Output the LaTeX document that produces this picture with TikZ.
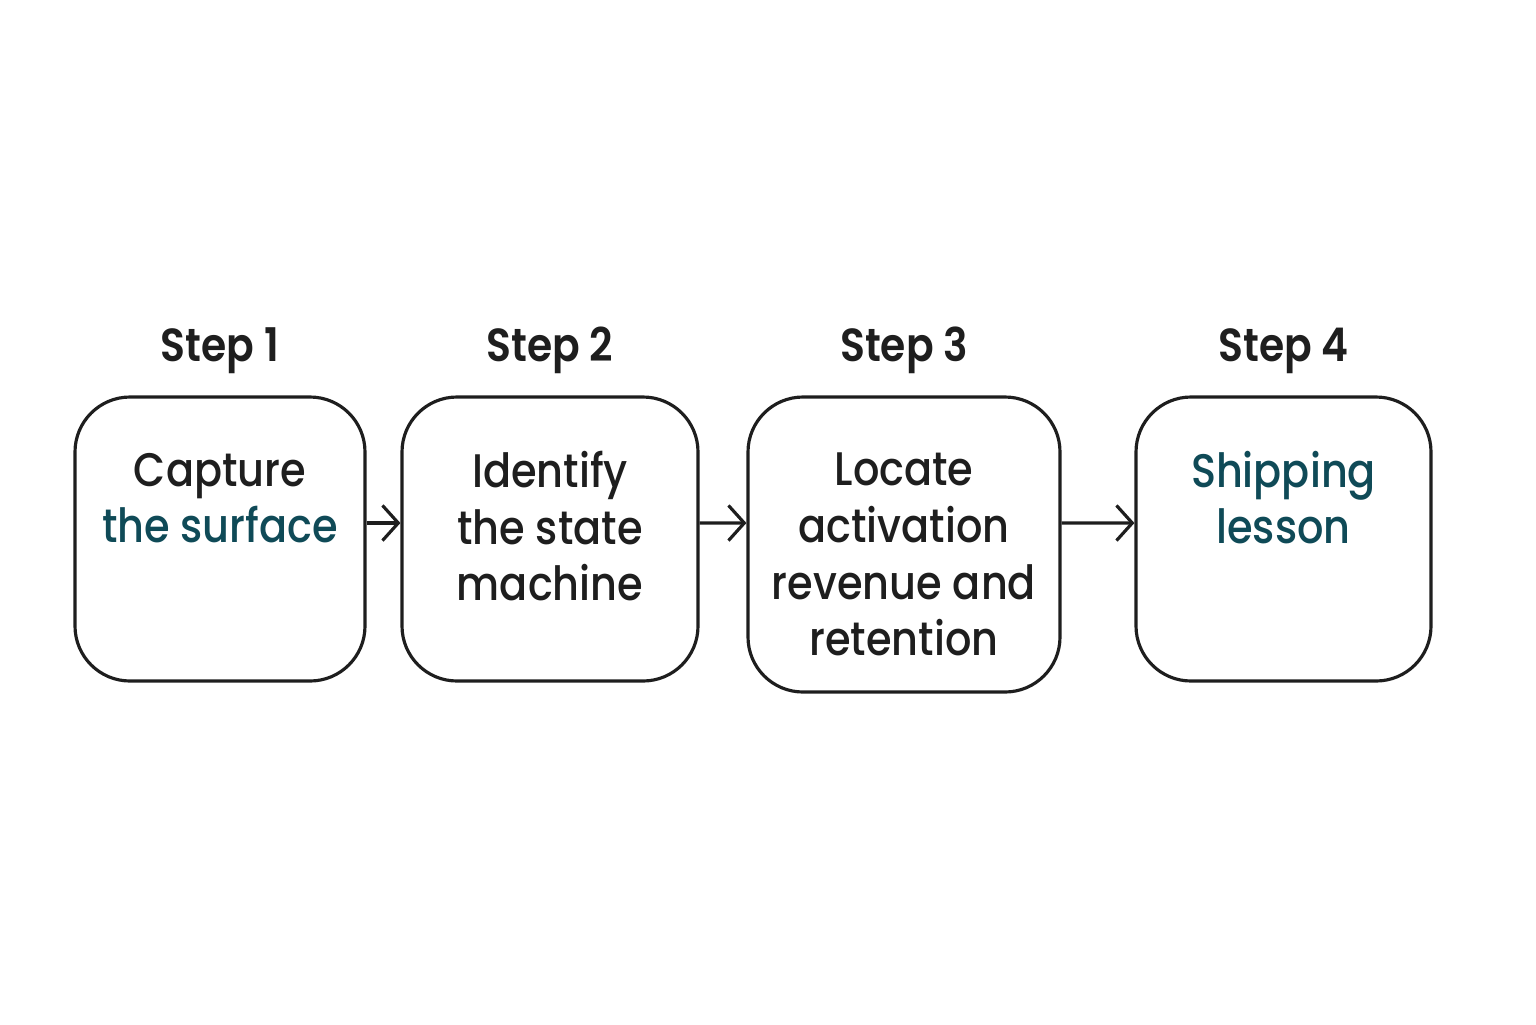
\documentclass[tikz,border=0pt]{standalone}
\usepackage{fontspec}
\setmainfont{Poppins}[UprightFont=* Medium, BoldFont=* SemiBold, FakeStretch=0.88]
\usetikzlibrary{positioning, arrows.meta}

\definecolor{ink}{HTML}{1E1E1E}
\definecolor{deepteal}{HTML}{0F4A57}

\begin{document}
\begin{tikzpicture}[
  box/.style={draw=ink, line width=0.9pt, rounded corners=0.55cm, minimum height=2.84cm},
  txt/.style={align=center, inner sep=0pt, text=ink, font=\fontsize{13.4}{16.1}\selectfont},
  steplabel/.style={anchor=base, inner sep=0pt, text=ink, font=\fontsize{13.2}{16}\selectfont\bfseries},
  flow/.style={draw=ink, line width=0.9pt, -{Straight Barb[length=4.5pt,width=10pt,line width=0.9pt]}}]
  \useasboundingbox (0,0) rectangle (15.36,-10.24);

  % boxes
  \node[box, minimum width=2.90cm] (b1) at (2.20,-5.39) {};
  \node[box, minimum width=2.96cm] (b2) at (5.50,-5.39) {};
  \node[box, minimum width=3.12cm, minimum height=2.95cm] (b3) at (9.04,-5.445) {};
  \node[box, minimum width=2.95cm] (b4) at (12.835,-5.39) {};

  % headings
  \foreach \b/\n in {b1/1, b2/2, b3/3, b4/4}
    \node[steplabel] (s\n) at ([yshift=0.34cm]\b.north) {Step \n};

  % texts
  \node[txt, below=0.57cm of b1.north] (t1) {Capture\\\textcolor{deepteal}{the surface}};
  \node[txt, below=0.55cm of b2.north] (t2) {Identify\\the state\\machine};
  \node[txt, below=0.57cm of b3.north] (t3) {Locate\\activation\\revenue and\\retention};
  \node[txt, text=deepteal, below=0.55cm of b4.north] (t4) {Shipping\\lesson};

  % arrows
  \draw[flow] ([yshift=0.16cm]b1.east) -- ([yshift=0.16cm]b2.west);
  \draw[flow] ([yshift=0.16cm]b2.east) -- ([yshift=0.215cm]b3.west);
  \draw[flow] ([yshift=0.215cm]b3.east) -- ([yshift=0.16cm]b4.west);
\end{tikzpicture}
\end{document}
